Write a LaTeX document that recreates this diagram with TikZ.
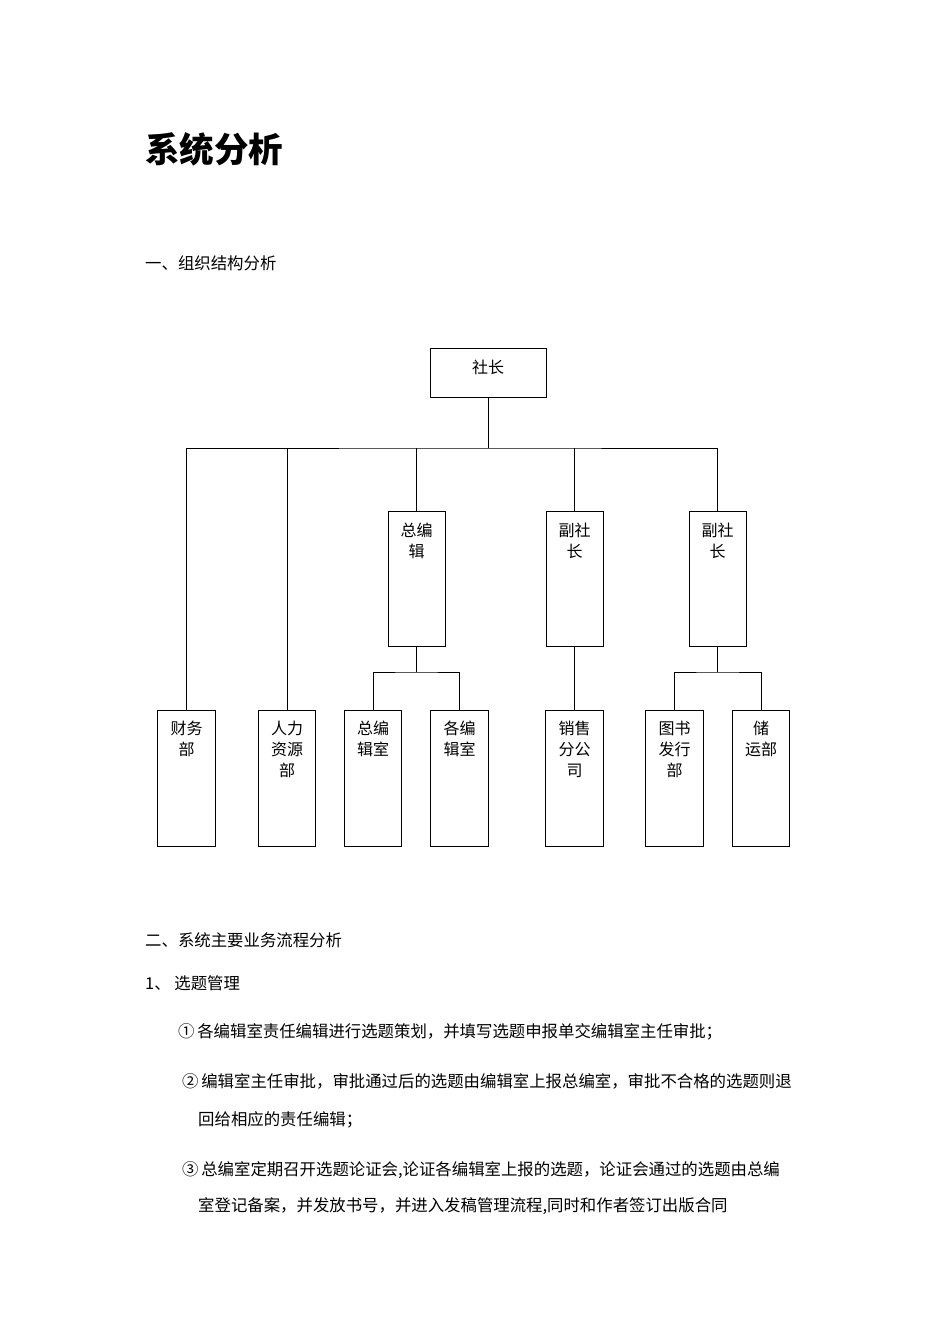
\documentclass[tikz,border=0pt]{standalone}
\usepackage{fontspec}
\newfontfamily\cjk{Noto Sans CJK SC}
\begin{document}
\begin{tikzpicture}[x=1pt,y=-1pt,
  box/.style={draw,line width=0.8pt,inner sep=0pt},
  bt/.style={anchor=north,align=center,inner sep=0pt,font=\cjk\fontsize{16}{21}\selectfont},
  tx/.style={anchor=base west,inner sep=0pt,font=\cjk\fontsize{16.4}{20}\selectfont},
  ln/.style={line width=0.8pt}]
\useasboundingbox[fill=white] (0,0) rectangle (950,1344);
\node[anchor=base west,inner sep=0pt,font=\cjk\fontsize{34.5}{38}\selectfont\bfseries] (title) at (145,162) {系统分析};
\node[tx] (h1) at (145,269) {一、组织结构分析};
\node[box,minimum width=116,minimum height=49] (sz) at (488,372.5) {};
\node[bt] at ([yshift=-12pt]sz.north) {社长};
\node[box,minimum width=57,minimum height=135] (zb) at (416.5,578.5) {};
\node[bt] at ([yshift=-12pt]zb.north) {总编\\辑};
\node[box,minimum width=57,minimum height=135] (fs1) at (574.5,578.5) {};
\node[bt] at ([yshift=-12pt]fs1.north) {副社\\长};
\node[box,minimum width=57,minimum height=135] (fs2) at (717.5,578.5) {};
\node[bt] at ([yshift=-12pt]fs2.north) {副社\\长};
\foreach \n/\x/\t in {cw/186.5/{财务\\部},rl/287/{人力\\资源\\部},zbs/373/{总编\\辑室},gbs/459.5/{各编\\辑室},xs/574.5/{销售\\分公\\司},ts/674.5/{图书\\发行\\部},cy/761/{储\\运部}}{
  \node[box,minimum width=57.5,minimum height=136] (\n) at (\x,778) {};
  \node[bt] at ([yshift=-11pt]\n.north) {\t};
}
\coordinate (j1) at (488,448);
\draw[ln] (sz.south) -- (j1);
\draw[ln] (cw.north) |- (j1) -| (fs2.north);
\draw[ln] (rl.north) -- (rl.north |- j1);
\draw[ln] (zb.north) -- (zb.north |- j1);
\draw[ln] (fs1.north) -- (fs1.north |- j1);
\coordinate (j2) at (416.5,672);
\draw[ln] (zb.south) -- (j2);
\draw[ln] (zbs.north) |- (j2) -| (gbs.north);
\draw[ln] (fs1.south) -- (xs.north);
\coordinate (j3) at (717.5,672);
\draw[ln] (fs2.south) -- (j3);
\draw[ln] (ts.north) |- (j3) -| (cy.north);
\node[tx] (h2) at (145,946) {二、系统主要业务流程分析};
\node[tx] (h3) at (145,989) {1、 选题管理};
\node[tx] (p1) at (178,1037) {①\,各编辑室责任编辑进行选题策划，并填写选题申报单交编辑室主任审批；};
\node[tx] (p2) at (182,1087) {②\,编辑室主任审批，审批通过后的选题由编辑室上报总编室，审批不合格的选题则退};
\node[tx] (p2b) at (198,1125) {回给相应的责任编辑；};
\node[tx] (p3) at (182,1175) {③\,总编室定期召开选题论证会,论证各编辑室上报的选题，论证会通过的选题由总编};
\node[tx] (p3b) at (198,1211) {室登记备案，并发放书号，并进入发稿管理流程,同时和作者签订出版合同};
\end{tikzpicture}
\end{document}
